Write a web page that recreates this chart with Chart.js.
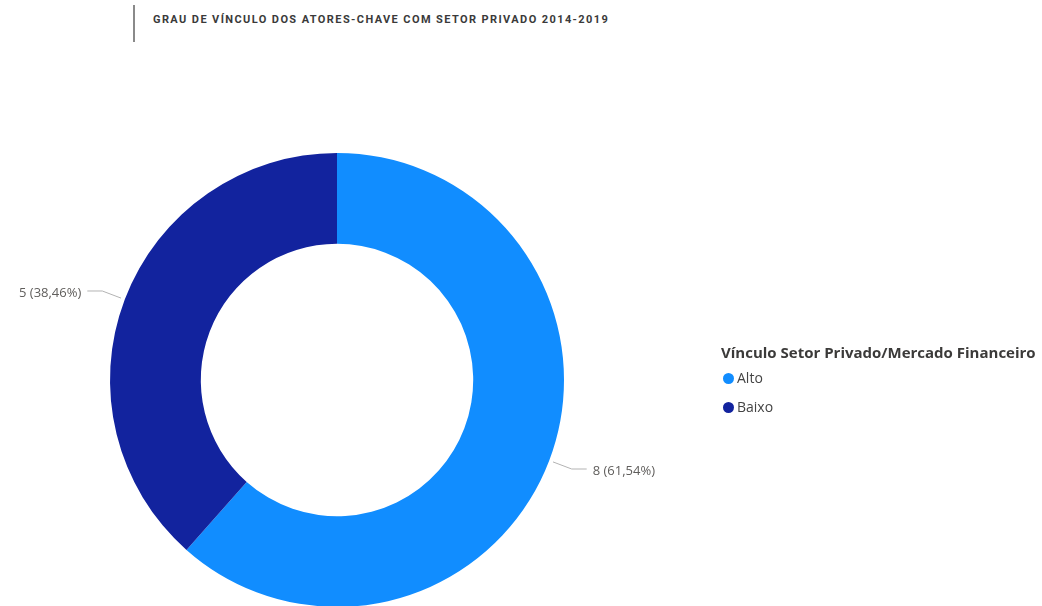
<!DOCTYPE html>
<html>
<head>
<meta charset="utf-8">
<script src="https://cdn.jsdelivr.net/npm/chart.js@4"></script>
<style>
  html, body { margin: 0; padding: 0; background: #fff; overflow: hidden; width: 1042px; height: 606px; }
  #wrap { position: relative; width: 1042px; height: 606px; }
  #bar { position: absolute; left: 133px; top: 5px; width: 2px; height: 37px; background: #8a8a8a; }
  #title { position: absolute; left: 153px; top: 13px; font: bold 11px Roboto, sans-serif; letter-spacing: 1.4px; color: #3a3a3a; white-space: nowrap; }
  #chart { position: absolute; left: 0; top: 0; }
  #legend { position: absolute; left: 721px; top: 342px; font-family: "Open Sans", "Noto Sans", sans-serif; }
  #legend .lt { font-weight: bold; font-size: 15px; color: #3b3a39; margin-bottom: 7px; }
  #legend .it { font-size: 14px; color: #444; height: 29px; line-height: 18px; display: flex; align-items: flex-start; }
  #legend .dot { width: 11px; height: 11px; border-radius: 50%; margin: 4px 3px 0 2px; }
</style>
</head>
<body>
<div id="wrap">
  <div id="bar"></div>
  <div id="title">GRAU DE VÍNCULO DOS ATORES-CHAVE COM SETOR PRIVADO 2014-2019</div>
  <canvas id="chart" width="1042" height="640"></canvas>
  <div id="legend"></div>
</div>
<script>
const categories = ['Alto', 'Baixo'];
const values = [8, 5];
const colors = ['#118DFF', '#12239E'];
const legendTitle = 'Vínculo Setor Privado/Mercado Financeiro';

const total = values.reduce((a, b) => a + b, 0);

// legend
const leg = document.getElementById('legend');
leg.innerHTML = '<div class="lt">' + legendTitle + '</div>' +
  categories.map((c, i) => '<div class="it"><span class="dot" style="background:' + colors[i] + '"></span>' + c + '</div>').join('');

// leader lines + data labels
const leaderLabels = {
  id: 'leaderLabels',
  afterDatasetsDraw(chart) {
    const ctx = chart.ctx;
    const meta = chart.getDatasetMeta(0);
    ctx.save();
    ctx.font = '13px "Open Sans", "Noto Sans", sans-serif';
    ctx.textBaseline = 'middle';
    meta.data.forEach((arc, i) => {
      const p = arc.getProps(['x', 'y', 'startAngle', 'endAngle', 'outerRadius'], true);
      const mid = (p.startAngle + p.endAngle) / 2;
      const r0 = p.outerRadius + 4;
      const r1 = p.outerRadius + 24;
      const x0 = p.x + Math.cos(mid) * r0, y0 = p.y + Math.sin(mid) * r0;
      const x1 = p.x + Math.cos(mid) * r1, y1 = p.y + Math.sin(mid) * r1;
      const right = Math.cos(mid) >= 0;
      const x2 = x1 + (right ? 15 : -15);
      ctx.strokeStyle = '#b3b3b3';
      ctx.lineWidth = 1;
      ctx.beginPath();
      ctx.moveTo(x0, y0);
      ctx.lineTo(x1, y1);
      ctx.lineTo(x2, y1);
      ctx.stroke();
      const pct = (values[i] / total * 100).toFixed(2).replace('.', ',');
      ctx.fillStyle = '#605E5C';
      ctx.textAlign = right ? 'left' : 'right';
      ctx.fillText(values[i] + ' (' + pct + '%)', x2 + (right ? 6 : -6), y1 + 2);
    });
    ctx.restore();
  }
};

new Chart(document.getElementById('chart'), {
  type: 'doughnut',
  data: {
    labels: categories,
    datasets: [{
      data: values,
      backgroundColor: colors,
      borderWidth: 0
    }]
  },
  options: {
    responsive: false,
    animation: false,
    events: [],
    cutout: '60%',
    layout: { padding: { left: 110, top: 153, right: 478, bottom: 33 } },
    plugins: {
      legend: { display: false },
      tooltip: { enabled: false }
    }
  },
  plugins: [leaderLabels]
});
</script>
</body>
</html>
